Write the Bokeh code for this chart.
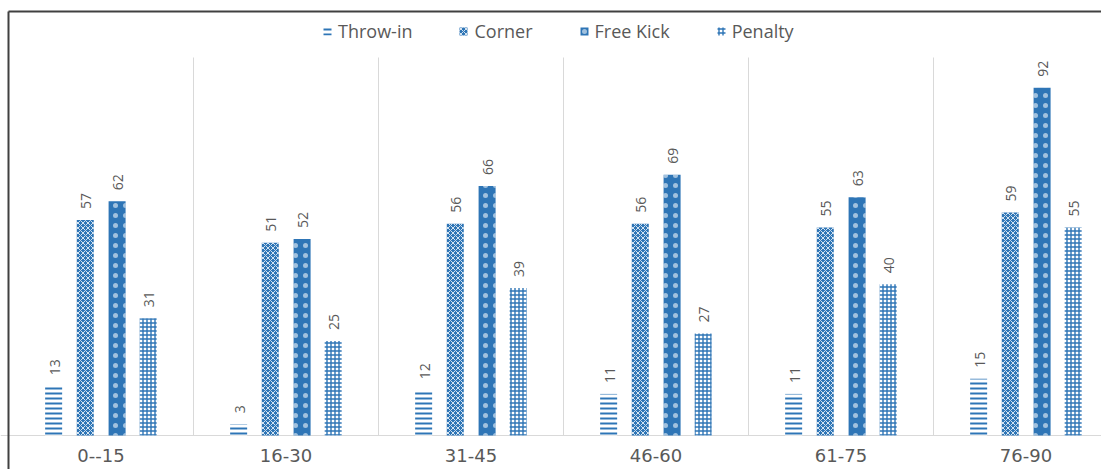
import numpy as np
from bokeh.plotting import figure
from bokeh.models import ColumnDataSource, Range1d, Legend, LegendItem
from bokeh.core.properties import value
from bokeh.transform import dodge
from bokeh.embed import file_html
from bokeh.resources import INLINE

categories = ["0--15", "16-30", "31-45", "46-60", "61-75", "76-90"]
throw_in = [13, 3, 12, 11, 11, 15]
corner = [57, 51, 56, 56, 55, 59]
free_kick = [62, 52, 66, 69, 63, 92]
penalty = [31, 25, 39, 27, 40, 55]
series_names = ["Throw-in", "Corner", "Free Kick", "Penalty"]

BLUE = "#2E75B6"
GRAY_TXT = "#595959"

W, H = 1101, 469
PX_X = 185.0      # px per category group
PX_Y = 3.78       # px per unit
X0_PX = 8         # screen x of data x=0
Y0_PX = 435       # screen y of data y=0

x_range = Range1d(-X0_PX / PX_X, (W - X0_PX) / PX_X)
y_range = Range1d(-(H - Y0_PX) / PX_Y, Y0_PX / PX_Y)

p = figure(width=W, height=H, x_range=x_range, y_range=y_range,
           output_backend="svg", toolbar_location=None,
           x_axis_location=None, y_axis_location=None,
           min_border=0, outline_line_color=None)
p.xgrid.visible = False
p.ygrid.visible = False
p.background_fill_color = "white"
p.border_fill_color = "white"

n = len(categories)
centers = np.arange(n) + 0.5
src = ColumnDataSource(dict(
    x=centers, cat=categories,
    throw_in=throw_in, corner=corner, free_kick=free_kick, penalty=penalty,
    throw_in_t=[str(v) for v in throw_in], corner_t=[str(v) for v in corner],
    free_kick_t=[str(v) for v in free_kick], penalty_t=[str(v) for v in penalty],
))

# separators and baseline
top_val = 100
p.segment(x0=np.arange(1, n), y0=0, x1=np.arange(1, n), y1=top_val,
          line_color="#D9D9D9", line_width=1)
p.segment(x0=[x_range.start], y0=[0], x1=[x_range.end], y1=[0],
          line_color="#D9D9D9", line_width=1.2)

bw = 17 / PX_X
offsets = [-0.256, -0.085, 0.087, 0.255]
styles = [
    dict(fill_color="white", fill_alpha=1, hatch_pattern="horizontal_line",
         hatch_color=BLUE, hatch_scale=5, hatch_weight=2),
    dict(fill_color=BLUE, hatch_pattern="diagonal_cross",
         hatch_color="white", hatch_scale=5, hatch_weight=0.8),
    dict(fill_color=BLUE, hatch_pattern="dot",
         hatch_color="white", hatch_scale=10, hatch_weight=1, hatch_alpha=0.55),
    dict(fill_color="white", hatch_pattern="cross",
         hatch_color=BLUE, hatch_scale=4, hatch_weight=1.4),
]
cols = ["throw_in", "corner", "free_kick", "penalty"]
items = []
for name, col, off, st in zip(series_names, cols, offsets, styles):
    r = p.vbar(x=dodge("x", off), top=col, width=bw, bottom=0, source=src,
               line_color=None, **st)
    items.append(LegendItem(label=name, renderers=[r]))
    p.text(x=dodge("x", off), y=col, text=col + "_t", source=src,
           angle=np.pi / 2, text_align="left", text_baseline="middle",
           y_offset=-11, x_offset=1, text_color=GRAY_TXT,
           text_font=value("Open Sans"), text_font_size="14px")

# category labels
p.text(x="x", y=-(455 - Y0_PX) / PX_Y, text="cat", source=src,
       text_align="center", text_baseline="middle", text_color=GRAY_TXT,
       text_font=value("DejaVu Sans"), text_font_size="18px")

# outer border (top and left)
top_border = (Y0_PX - 11) / PX_Y
p.segment(x0=[0, 0], y0=[top_border, top_border], x1=[x_range.end, 0],
          y1=[top_border, y_range.start], line_color="#404040", line_width=2)

legend = Legend(items=items, orientation="horizontal", location=(322, H - 43),
                glyph_width=10, glyph_height=10, label_height=20,
                label_standoff=6, spacing=46, padding=0, margin=0,
                border_line_color=None, background_fill_alpha=0,
                label_text_font="Open Sans", label_text_font_size="18px",
                label_text_color=GRAY_TXT)
p.add_layout(legend)

open("out.html", "w").write(file_html(p, INLINE))
